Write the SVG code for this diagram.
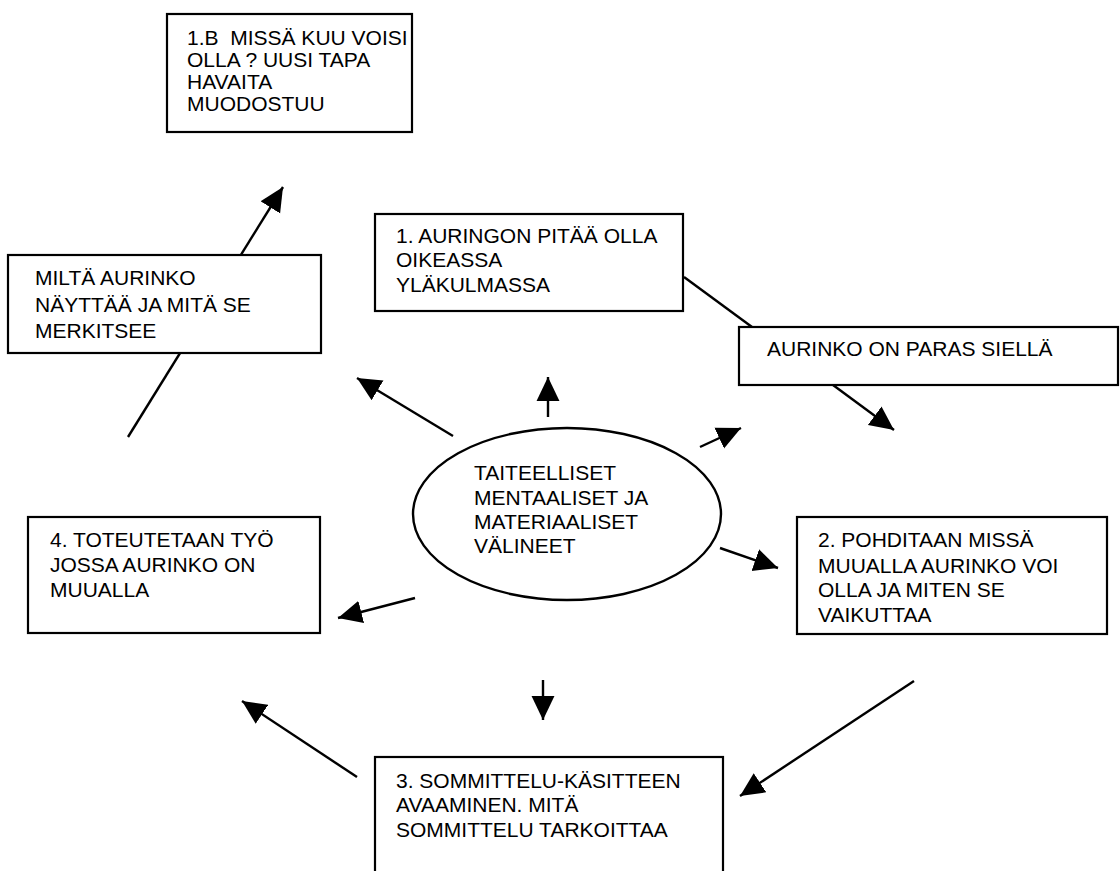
<svg xmlns="http://www.w3.org/2000/svg" width="1120" height="871" viewBox="0 0 1120 871">
<style>
.box{fill:#fff;stroke:#000;stroke-width:2.2}
.t{font-family:"Liberation Sans",Arial,sans-serif;font-size:21px;fill:#000}
.c{stroke:#000;stroke-width:2.4;fill:none}
.a{marker-end:url(#ah)}
</style>
<defs>
<marker id="ah" markerUnits="userSpaceOnUse" markerWidth="24" markerHeight="24" refX="22" refY="10.5" orient="auto" viewBox="0 0 22 21">
<path d="M0,0 L22,10.5 L0,21 Z" fill="#000"/>
</marker>
</defs>
<rect width="1120" height="871" fill="#fff"/>
<g id="connectors">
<line class="c a" x1="128" y1="437" x2="283" y2="187"/>
<line class="c" x1="684" y1="277" x2="752" y2="327"/>
<line class="c a" x1="833" y1="385" x2="894" y2="430"/>
<line class="c a" x1="700" y1="447" x2="741" y2="428"/>
<line class="c a" x1="720" y1="548" x2="778" y2="568"/>
<line class="c a" x1="548" y1="417" x2="548" y2="377"/>
<line class="c a" x1="453" y1="436" x2="357" y2="378"/>
<line class="c a" x1="415" y1="598" x2="338" y2="618"/>
<line class="c a" x1="543" y1="680" x2="543" y2="720"/>
<line class="c a" x1="914" y1="681" x2="740" y2="796"/>
<line class="c a" x1="357" y1="777" x2="242" y2="701"/>
</g>
<g id="n1b">
<rect class="box" x="167" y="14" width="245" height="118"/>
<text class="t" x="187" y="45" xml:space="preserve">1.B  MISSÄ KUU VOISI</text>
<text class="t" x="187" y="67">OLLA ? UUSI TAPA</text>
<text class="t" x="187" y="89">HAVAITA</text>
<text class="t" x="187" y="111">MUODOSTUU</text>
</g>
<g id="nmilta">
<rect class="box" x="8" y="255" width="313" height="98"/>
<text class="t" x="35" y="285">MILTÄ AURINKO</text>
<text class="t" x="35" y="312">NÄYTTÄÄ JA MITÄ SE</text>
<text class="t" x="35" y="338">MERKITSEE</text>
</g>
<g id="n1">
<rect class="box" x="375" y="214" width="308" height="97"/>
<text class="t" x="396" y="243">1. AURINGON PITÄÄ OLLA</text>
<text class="t" x="396" y="267">OIKEASSA</text>
<text class="t" x="396" y="292">YLÄKULMASSA</text>
</g>
<g id="nparas">
<rect class="box" x="739" y="327" width="379" height="58"/>
<text class="t" x="767" y="356">AURINKO ON PARAS SIELLÄ</text>
</g>
<g id="ncenter">
<ellipse cx="567" cy="514" rx="154" ry="86" fill="#fff" stroke="#000" stroke-width="2.4"/>
<text class="t" x="474" y="480">TAITEELLISET</text>
<text class="t" x="474" y="505">MENTAALISET JA</text>
<text class="t" x="474" y="529">MATERIAALISET</text>
<text class="t" x="474" y="553">VÄLINEET</text>
</g>
<g id="n4">
<rect class="box" x="28" y="517" width="292" height="116"/>
<text class="t" x="50" y="547">4. TOTEUTETAAN TYÖ</text>
<text class="t" x="50" y="572">JOSSA AURINKO ON</text>
<text class="t" x="50" y="597">MUUALLA</text>
</g>
<g id="n2">
<rect class="box" x="797" y="517" width="310" height="117"/>
<text class="t" x="818" y="547">2. POHDITAAN MISSÄ</text>
<text class="t" x="818" y="573">MUUALLA AURINKO VOI</text>
<text class="t" x="818" y="597">OLLA JA MITEN SE</text>
<text class="t" x="818" y="622">VAIKUTTAA</text>
</g>
<g id="n3">
<rect class="box" x="375" y="757" width="348" height="130"/>
<text class="t" x="396" y="788">3. SOMMITTELU-KÄSITTEEN</text>
<text class="t" x="396" y="812">AVAAMINEN. MITÄ</text>
<text class="t" x="396" y="837">SOMMITTELU TARKOITTAA</text>
</g>
</svg>
